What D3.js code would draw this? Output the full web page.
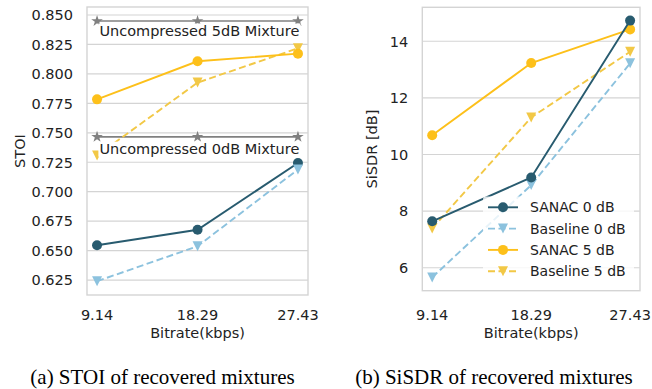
<!DOCTYPE html>
<html>
<head>
<meta charset="utf-8">
<script src="https://cdn.jsdelivr.net/npm/d3@7"></script>
<style>
  html, body { margin: 0; padding: 0; background: #fff; }
  svg { display: block; }
  .tick-label { font-family: 'DejaVu Sans', sans-serif; font-size: 14.5px; fill: #222; }
  .legend-label { font-family: 'DejaVu Sans', sans-serif; font-size: 14px; fill: #222; }
  .caption { font-family: 'Liberation Serif', 'Times New Roman', serif; font-size: 21px; fill: #000; }
</style>
</head>
<body>
<div id="chart"></div>
<script>
// x positions (kbps)
const bitrates = [9.14, 18.29, 27.43];
const bitrateLabels = ['9.14', '18.29', '27.43'];

// STOI values
const stoiSanac0 = [0.6545, 0.6677, 0.7243];
const stoiBase0 = [0.6240, 0.6537, 0.7188];
const stoiSanac5 = [0.7784, 0.8107, 0.8172];
const stoiBase5 = [0.7307, 0.7926, 0.8218];
const stoiClean5 = [0.8449, 0.8449, 0.8449];
const stoiClean0 = [0.7466, 0.7466, 0.7466];
const stoiTicks = [0.625, 0.650, 0.675, 0.700, 0.725, 0.750, 0.775, 0.800, 0.825, 0.850];

// SiSDR values
const sisdrSanac0 = [7.64, 9.19, 14.73];
const sisdrBase0 = [5.66, 8.92, 13.22];
const sisdrSanac5 = [10.68, 13.23, 14.42];
const sisdrBase5 = [7.39, 11.31, 13.63];
const sisdrTicks = [6, 8, 10, 12, 14];

const legendNames = ['SANAC 0 dB', 'Baseline 0 dB', 'SANAC 5 dB', 'Baseline 5 dB'];

const COL = {
  sanac0: '#285b6f',
  base0: '#8cc2de',
  sanac5: '#fdc01a',
  base5: '#f2c846',
  clean: '#808080',
  grid: '#d4d4d4',
};

const width = 652;
const height = 389;
const LW = 1.9;
const MR = 5;
const DASH = '7,3.5';

const svg = d3.select('#chart').append('svg').attr('width', width).attr('height', height);

const triDown = (r) => `M${-r},${-r}L${r},${-r}L0,${r}Z`;

function addSeries(g, x, y, values, color, marker, dashed) {
  const pts = bitrates.map((b, i) => ({ b, v: values[i] }));
  const line = d3.line().x((d) => x(d.b)).y((d) => y(d.v));
  g.append('path')
    .datum(pts)
    .attr('d', line)
    .attr('fill', 'none')
    .attr('stroke', color)
    .attr('stroke-width', marker === 'star' ? 1.7 : LW)
    .attr('stroke-dasharray', dashed ? DASH : null);
  const m = g.selectAll(null).data(pts).enter();
  if (marker === 'circle') {
    m.append('circle')
      .attr('cx', (d) => x(d.b))
      .attr('cy', (d) => y(d.v))
      .attr('r', MR)
      .attr('fill', color);
  } else if (marker === 'tri') {
    m.append('path')
      .attr('transform', (d) => `translate(${x(d.b)},${y(d.v)})`)
      .attr('d', triDown(MR))
      .attr('fill', color);
  } else {
    m.append('path')
      .attr('transform', (d) => `translate(${x(d.b)},${y(d.v)})`)
      .attr('d', d3.symbol().type(d3.symbolStar).size(42)())
      .attr('fill', color);
  }
}

function drawPanel(opts) {
  const { left, right, top, bottom, yDomain, ticks, tickFmt, yLabel, yLabelX, caption, captionX } = opts;
  const g = svg.append('g');
  const x = d3.scaleLinear().domain([8.2255, 28.3445]).range([left, right]);
  const y = d3.scaleLinear().domain(yDomain).range([bottom, top]);

  // horizontal grid
  g.selectAll('line.grid')
    .data(ticks)
    .enter()
    .append('line')
    .attr('class', 'grid')
    .attr('x1', left)
    .attr('x2', right)
    .attr('y1', (d) => y(d))
    .attr('y2', (d) => y(d))
    .attr('stroke', COL.grid)
    .attr('stroke-width', 1.2);

  // frame
  g.append('rect')
    .attr('x', left)
    .attr('y', top)
    .attr('width', right - left)
    .attr('height', bottom - top)
    .attr('fill', 'none')
    .attr('stroke', COL.grid)
    .attr('stroke-width', 1.4);

  // y tick labels
  g.selectAll('text.ytick')
    .data(ticks)
    .enter()
    .append('text')
    .attr('class', 'tick-label')
    .attr('x', left - 14)
    .attr('y', (d) => y(d) + 5.3)
    .attr('text-anchor', 'end')
    .text(tickFmt);

  // x tick labels
  g.selectAll('text.xtick')
    .data(bitrates)
    .enter()
    .append('text')
    .attr('class', 'tick-label')
    .attr('x', (d) => x(d))
    .attr('y', 319.5)
    .attr('text-anchor', 'middle')
    .text((d, i) => bitrateLabels[i]);

  g.append('text')
    .attr('class', 'tick-label')
    .attr('x', x(18.29))
    .attr('y', 338)
    .attr('text-anchor', 'middle')
    .text('Bitrate(kbps)');

  g.append('text')
    .attr('class', 'tick-label')
    .attr('transform', `translate(${yLabelX},${(top + bottom) / 2}) rotate(-90)`)
    .attr('text-anchor', 'middle')
    .text(yLabel);

  g.append('text')
    .attr('class', 'caption')
    .attr('x', captionX)
    .attr('y', 384)
    .attr('text-anchor', 'middle')
    .text(caption);

  return { g, x, y };
}

function boxedLabel(g, x, yBase, text) {
  const t = g.append('text')
    .attr('class', 'tick-label')
    .attr('x', x)
    .attr('y', yBase)
    .attr('text-anchor', 'middle')
    .text(text);
  const bb = t.node().getBBox();
  g.insert('rect', function () { return t.node(); })
    .attr('x', bb.x - 1)
    .attr('y', bb.y + 1)
    .attr('width', bb.width + 2)
    .attr('height', bb.height - 1)
    .attr('fill', '#fff');
}

// (a) STOI
const a = drawPanel({
  left: 87, right: 308, top: 7, bottom: 295,
  yDomain: [0.6123, 0.8568],
  ticks: stoiTicks,
  tickFmt: (d) => d.toFixed(3),
  yLabel: 'STOI', yLabelX: 25,
  caption: '(a) STOI of recovered mixtures', captionX: 162.5,
});
addSeries(a.g, a.x, a.y, stoiClean5, COL.clean, 'star', false);
addSeries(a.g, a.x, a.y, stoiClean0, COL.clean, 'star', false);
addSeries(a.g, a.x, a.y, stoiSanac0, COL.sanac0, 'circle', false);
addSeries(a.g, a.x, a.y, stoiBase0, COL.base0, 'tri', true);
addSeries(a.g, a.x, a.y, stoiBase5, COL.base5, 'tri', true);
addSeries(a.g, a.x, a.y, stoiSanac5, COL.sanac5, 'circle', false);
boxedLabel(a.g, a.x(18.29) + 1.8, 35.5, 'Uncompressed 5dB Mixture');
boxedLabel(a.g, a.x(18.29) + 1.8, 153.7, 'Uncompressed 0dB Mixture');

// (b) SiSDR
const b = drawPanel({
  left: 422.3, right: 640, top: 7.3, bottom: 290.7,
  yDomain: [5.19, 15.2],
  ticks: sisdrTicks,
  tickFmt: (d) => d,
  yLabel: 'SiSDR [dB]', yLabelX: 377,
  caption: '(b) SiSDR of recovered mixtures', captionX: 494,
});
addSeries(b.g, b.x, b.y, sisdrBase0, COL.base0, 'tri', true);
addSeries(b.g, b.x, b.y, sisdrBase5, COL.base5, 'tri', true);
addSeries(b.g, b.x, b.y, sisdrSanac5, COL.sanac5, 'circle', false);
addSeries(b.g, b.x, b.y, sisdrSanac0, COL.sanac0, 'circle', false);

// legend
const legendItems = [
  { name: legendNames[0], color: COL.sanac0, marker: 'circle', dashed: false },
  { name: legendNames[1], color: COL.base0, marker: 'tri', dashed: true },
  { name: legendNames[2], color: COL.sanac5, marker: 'circle', dashed: false },
  { name: legendNames[3], color: COL.base5, marker: 'tri', dashed: true },
];
const lg = svg.append('g');
lg.append('rect')
  .attr('x', 483)
  .attr('y', 196.5)
  .attr('width', 151)
  .attr('height', 86)
  .attr('rx', 3)
  .attr('fill', '#fff')
  .attr('fill-opacity', 0.8);
const rows = lg.selectAll('g.item')
  .data(legendItems)
  .enter()
  .append('g')
  .attr('transform', (d, i) => `translate(488,${207.3 + i * 21.3})`);
rows.append('line')
  .attr('x1', 0).attr('x2', 30)
  .attr('stroke', (d) => d.color)
  .attr('stroke-width', LW)
  .attr('stroke-dasharray', (d) => (d.dashed ? DASH : null));
rows.filter((d) => d.marker === 'circle')
  .append('circle').attr('cx', 15).attr('r', MR).attr('fill', (d) => d.color);
rows.filter((d) => d.marker === 'tri')
  .append('path').attr('transform', 'translate(15,0)').attr('d', triDown(MR)).attr('fill', (d) => d.color);
rows.append('text')
  .attr('class', 'legend-label')
  .attr('x', 42)
  .attr('y', 5)
  .text((d) => d.name);
</script>
</body>
</html>
